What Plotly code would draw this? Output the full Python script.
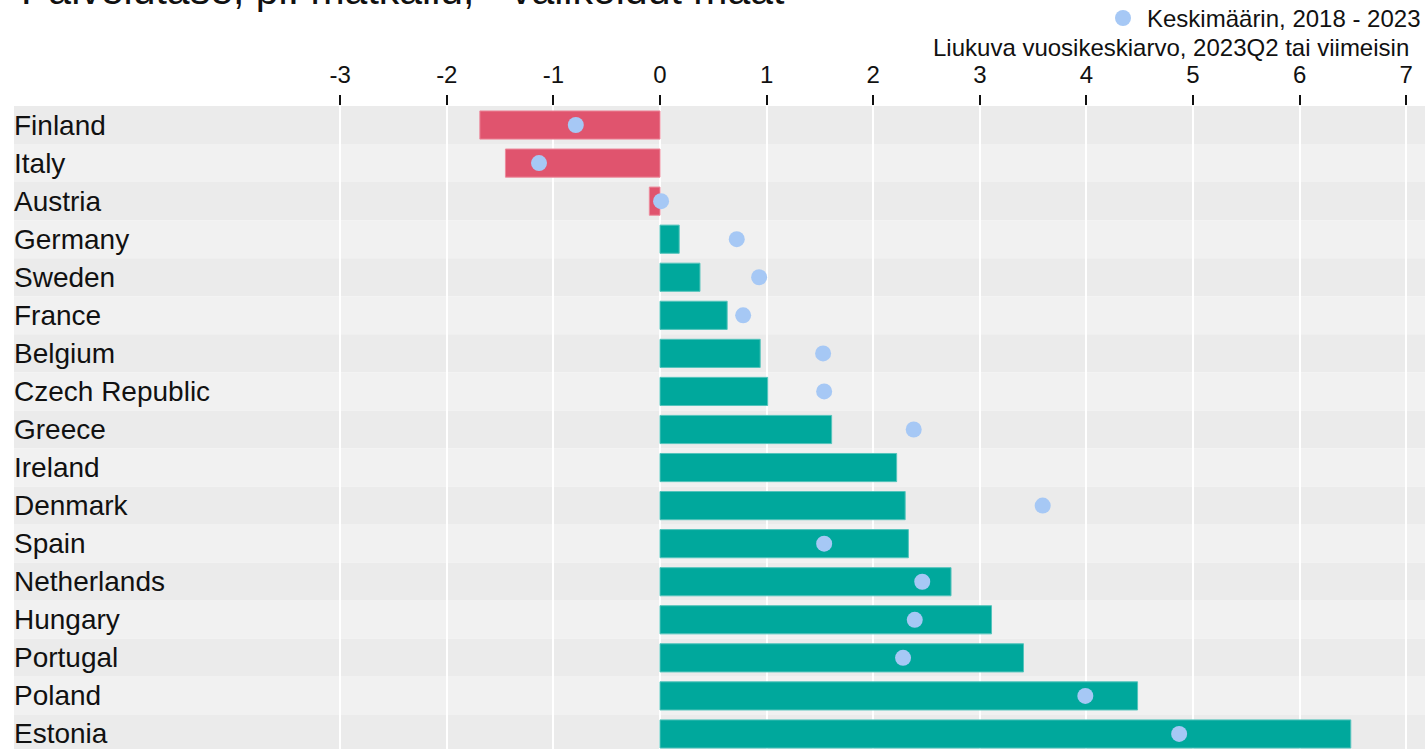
import plotly.graph_objects as go

countries = ["Finland", "Italy", "Austria", "Germany", "Sweden", "France", "Belgium",
             "Czech Republic", "Greece", "Ireland", "Denmark", "Spain", "Netherlands",
             "Hungary", "Portugal", "Poland", "Estonia"]
latest = [-1.69, -1.45, -0.10, 0.18, 0.375, 0.63, 0.94, 1.01, 1.61, 2.22, 2.30, 2.33,
          2.73, 3.11, 3.41, 4.48, 6.48]
average = [-0.79, -1.135, 0.01, 0.72, 0.93, 0.78, 1.53, 1.54, 2.38, None, 3.59, 1.54,
           2.46, 2.39, 2.28, 3.99, 4.87]
tick_vals = list(range(-3, 8))
tick_text = [str(v) for v in tick_vals]

title_text = "Palvelutase, pl. matkailu, - valikoidut maat"
legend_avg = "Keskimäärin, 2018 - 2023"
legend_bar = "Liukuva vuosikeskiarvo, 2023Q2 tai viimeisin"

RED = "#E0546E"
TEAL = "#00A89C"
DOT = "#A6C8F5"
FONT = "Liberation Sans, Arial, sans-serif"

W, H = 1425, 749
L, T = 14, 106
PH = H - T
PW = W - L


def py(p):
    return (H - p) / PH


def px(p):
    return (p - L) / PW


ypos = list(range(len(countries)))

fig = go.Figure()
fig.add_trace(go.Bar(
    x=latest, y=ypos, orientation="h", width=0.74,
    marker=dict(color=[RED if v < 0 else TEAL for v in latest],
                line=dict(color=["#EC8A9C" if v < 0 else "#55C4BC" for v in latest], width=1)),
    showlegend=False, hoverinfo="x",
))
fig.add_trace(go.Scatter(
    x=average, y=ypos, mode="markers",
    marker=dict(color=DOT, size=16, line=dict(width=0)),
    showlegend=False,
))

shapes = []
for i in ypos:
    shapes.append(dict(type="rect", xref="paper", yref="y", x0=0, x1=1,
                       y0=i - 0.5, y1=i + 0.5, layer="below", line=dict(width=0),
                       fillcolor="#EBEBEB" if i % 2 == 0 else "#F1F1F1"))
# legend dot
shapes.append(dict(type="circle", xref="paper", yref="paper", xsizemode="pixel",
                   ysizemode="pixel", xanchor=px(1123), yanchor=py(18),
                   x0=-8, x1=8, y0=-8, y1=8, fillcolor=DOT, line=dict(width=0)))

annotations = []
for i, c in enumerate(countries):
    annotations.append(dict(text=c, x=px(12), y=i, xref="paper", yref="y", xanchor="left",
                            yanchor="middle", showarrow=False,
                            font=dict(size=28, color="#111111", family=FONT)))
annotations.append(dict(text=title_text, x=px(19), y=py(15), xref="paper", yref="paper",
                        xanchor="left", yanchor="bottom", showarrow=False,
                        font=dict(size=41, color="#111111", family=FONT)))
annotations.append(dict(text=legend_avg, x=px(1423), y=py(18), xref="paper", yref="paper",
                        xanchor="right", yanchor="middle", showarrow=False,
                        font=dict(size=24, color="#111111", family=FONT)))
annotations.append(dict(text=legend_bar, x=px(1411), y=py(48), xref="paper", yref="paper",
                        xanchor="right", yanchor="middle", showarrow=False,
                        font=dict(size=24, color="#111111", family=FONT)))

x0v = (L - 660) / 106.6
x1v = (W - 660) / 106.6

fig.update_layout(
    width=W, height=H,
    margin=dict(l=L, r=0, t=T, b=0, pad=0),
    paper_bgcolor="white", plot_bgcolor="white",
    shapes=shapes, annotations=annotations,
    showlegend=False, bargap=0.26,
    font=dict(family=FONT, color="#111111"),
    xaxis=dict(range=[x0v, x1v], side="top", tickvals=tick_vals, ticktext=tick_text,
               ticks="outside", ticklen=10, tickwidth=2, tickcolor="#111111",
               tickfont=dict(size=24, color="#111111", family=FONT),
               ticklabelstandoff=2,
               showgrid=True, gridcolor="white", gridwidth=2, zeroline=False,
               showline=False, fixedrange=True),
    yaxis=dict(range=[(H - 125) / 38.06, -0.5], showticklabels=False, showgrid=False,
               zeroline=False, showline=False, ticks="", fixedrange=True),
)

fig.write_html("out.html", config={"displayModeBar": False},
               post_script="document.body.style.margin='0';document.body.style.overflow='hidden';")
